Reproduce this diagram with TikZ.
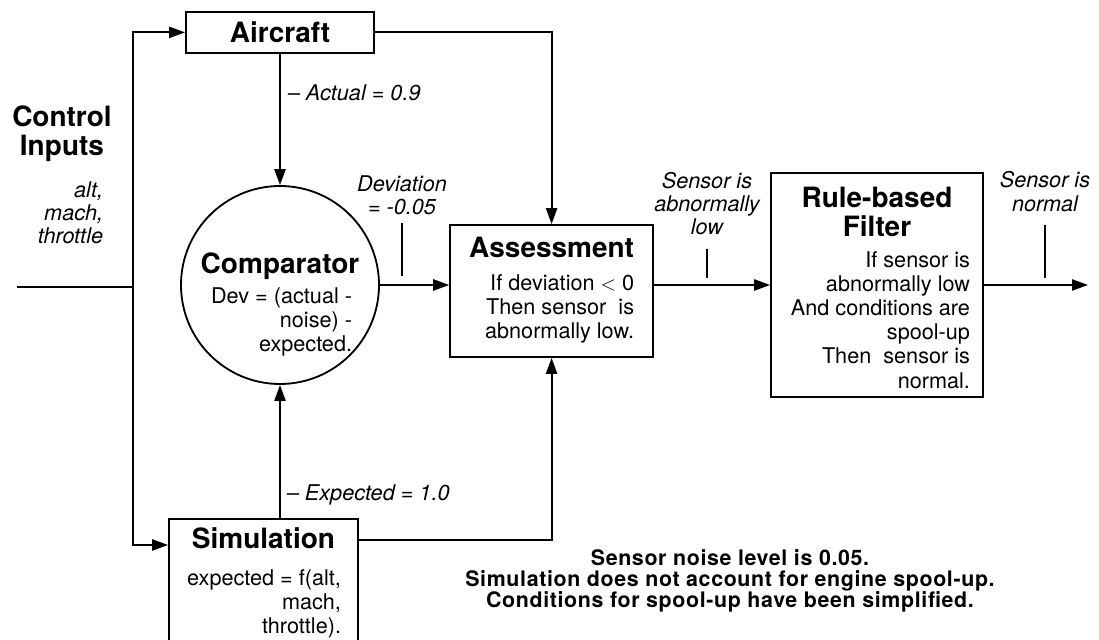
\documentclass[tikz,border=0pt]{standalone}
\usepackage{fontspec}
\setmainfont{TeX Gyre Heros}
\usetikzlibrary{positioning,arrows.meta}
\newcommand{\ttlfont}{\fontsize{19.9}{20.6}\selectfont\bfseries}
\newcommand{\bodyfont}{\fontsize{15.4}{17.1}\selectfont}
\newcommand{\lblfont}{\fontsize{15.4}{16.4}\selectfont\itshape}
\newcommand{\notefont}{\fontsize{15.2}{14.9}\selectfont\bfseries\addfontfeatures{LetterSpace=3}}

\begin{document}
\begin{tikzpicture}[line width=1.3pt,
        blk/.style={draw, rectangle, inner sep=0pt},
        ttl/.style={font=\ttlfont, inner sep=0pt, align=center},
        body/.style={font=\bodyfont, inner sep=0pt, align=right},
        lbl/.style={font=\lblfont, inner sep=0pt, align=center},
        arr/.style={-{Triangle[length=4mm,width=2.8mm]}}]
        \useasboundingbox (0,0) rectangle (27.475,16);
        \clip (0,0) rectangle (27.475,16);

        \node[blk, minimum width=4.7cm, minimum height=1.025cm, font=\ttlfont] (a) at (7,15.19) {Aircraft};
        \node[draw, circle, minimum size=4.95cm, inner sep=0pt] (c) at (7,8.875) {};
        \node[blk, minimum width=5.075cm, minimum height=3.3cm] (e) at (13.79,8.725) {};
        \node[blk, minimum width=5.3cm, minimum height=5.6cm] (f) at (21.925,8.875) {};
        \node[blk, minimum width=4.725cm, minimum height=4cm, anchor=north] (s) at (6.5875,3.05) {};

        \node[ttl, below=1.675cm of c.north] (ct) {Comparator};
        \node[body, anchor=north east] (cb) at ([xshift=1.825cm,yshift=-0.05cm]c.center)
        {Dev = (actual -\\noise) -\\expected.};
        \node[ttl, below=0.3cm of e.north] (et) {Assessment};
        \node[body, below left=1.25cm and 0.475cm of e.north east] (eb)
        {If deviation $<$ 0\\Then sensor\ \ is\\abnormally low.};
        \node[ttl, below=0.35cm of f.north] (ft) {Rule-based\\Filter};
        \node[body, below left=1.975cm and 0.325cm of f.north east] (fb)
        {If sensor is\\abnormally low\\And conditions are\\spool-up\\Then\ \ sensor is\\normal.};
        \node[ttl, below=0.225cm of s.north] (st) {Simulation};
        \node[body, below left=1.275cm and 0.425cm of s.north east] (sb)
        {expected = f(alt,\\mach,\\throttle).};

        \node[ttl] (ci) at (1.55,12.65) {Control\\Inputs};
        \node[lbl, align=right, anchor=east] (cv) at (2.6,10.675) {alt,\\mach,\\throttle};
        \node[lbl] (d) at (10.05,11.125) {Deviation\\= -0.05};
        \node[lbl] (l) at (17.675,10.91) {Sensor is\\abnormally\\low};
        \node[lbl] (n) at (26.125,11.21) {Sensor is\\normal};
        \node[font=\notefont, align=center, inner sep=0pt] (nt) at (18.25,1.475)
        {Sensor noise level is 0.05.\\Simulation does not account for engine spool-up.\\Conditions for spool-up have been simplified.};

        \coordinate (i) at (0.425,8.825);
        \coordinate (j) at (3.325,8.825);
        \coordinate (o) at (27.2,8.875);

        \draw (i) -- (j);
        \draw[arr] (j) |- (a.west);
        \draw[arr] (j) |- ([yshift=-0.675cm]s.north west);
        \draw[arr] (a.east) -| (e.north);
        \draw[arr] ([yshift=-0.55cm]s.north east) -| (e.south);
        \draw[arr] (a.south) -- node[lbl, anchor=west, pos=0.3, xshift=0.175cm] {-- Actual = 0.9} (c.north);
        \draw[arr] (c.south |- s.north) -- node[lbl, anchor=west, pos=0.17, xshift=0.15cm] {-- Expected = 1.0} (c.south);
        \draw[arr] (c.east) -- (c.east -| e.west);
        \draw[arr] (e.east |- f.west) -- (f.west);
        \draw[arr] (f.east) -- (o);

        \draw (d.south) ++(0,-0.2) -- ++(0,-1.325);
        \draw (l.south) ++(0,-0.325) -- ++(0,-0.725);
        \draw (n.south) ++(0,-0.325) -- ++(0,-1.325);
    \end{tikzpicture}
\end{document}
